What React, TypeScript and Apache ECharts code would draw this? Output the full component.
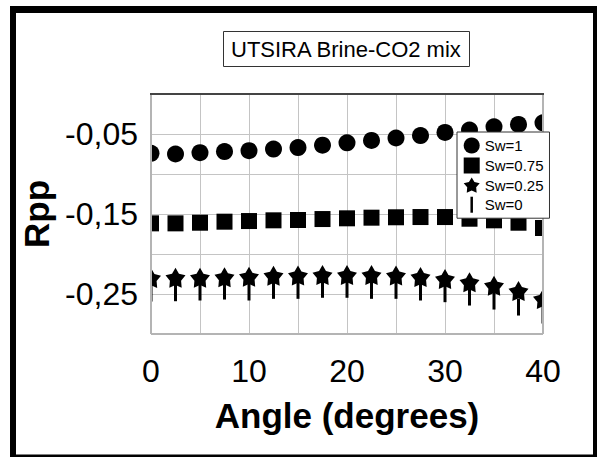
import React, { useEffect, useRef } from "react";
import * as echarts from "echarts";

const angles = [0, 2.5, 5, 7.5, 10, 12.5, 15, 17.5, 20, 22.5, 25, 27.5, 30, 32.5, 35, 37.5, 40];
const sw1 = [-0.0742, -0.075, -0.0733, -0.072, -0.0708, -0.0688, -0.067, -0.064, -0.061, -0.058, -0.055, -0.052, -0.048, -0.045, -0.041, -0.038, -0.036];
const sw075 = [-0.1617, -0.1617, -0.1609, -0.1596, -0.1588, -0.1579, -0.1575, -0.1563, -0.1554, -0.1546, -0.1541, -0.1538, -0.1538, -0.1559, -0.1579, -0.1609, -0.1675];
const sw025 = [-0.23, -0.2296, -0.2296, -0.229, -0.2284, -0.2271, -0.2269, -0.2263, -0.2263, -0.2263, -0.2269, -0.2288, -0.2313, -0.2354, -0.2396, -0.2463, -0.2563];
const sw0 = [-0.2488, -0.2484, -0.2475, -0.2463, -0.2475, -0.2454, -0.2454, -0.2441, -0.2441, -0.2454, -0.2454, -0.2475, -0.2496, -0.2538, -0.2588, -0.2663, -0.2763];
const seriesNames = ["Sw=1", "Sw=0.75", "Sw=0.25", "Sw=0"];
const yLabelsShown = [-0.05, -0.15, -0.25];
const xLabelsShown = [0, 10, 20, 30, 40];

const STAR =
  "path://M50 0 L66.46 27.35 L97.55 34.55 L76.63 58.65 L79.39 90.45 L50 78 L20.61 90.45 L23.37 58.65 L2.45 34.55 L33.54 27.35 Z";
const STICK = "path://M0 0 L2.5 0 L2.5 16 L0 16 Z";
const FONT = "Liberation Sans, Arial, sans-serif";

export default function App() {
  const ref = useRef<HTMLDivElement>(null);
  useEffect(() => {
    if (!ref.current) return;
    const chart = echarts.init(ref.current, undefined, { renderer: "svg" });
    const pts = (ys: number[]) => angles.map((a, i) => [a, ys[i]]);
    const gl = 151, gt = 94, gw = 392, gh = 240;
    const mark = { color: "#000", opacity: 1 };
    chart.setOption({
      animation: false,
      backgroundColor: "#fff",
      textStyle: { fontFamily: FONT },
      title: {
        text: "UTSIRA Brine-CO2 mix",
        left: 223,
        top: 31,
        padding: [6, 8, 6, 8],
        borderColor: "#333",
        borderWidth: 1,
        textStyle: { fontFamily: FONT, fontSize: 22, fontWeight: "normal", color: "#000", lineHeight: 24 },
      },
      grid: { left: gl, top: gt, width: gw, height: gh, show: false },
      xAxis: {
        type: "value",
        min: 0,
        max: 40,
        interval: 5,
        name: "Angle (degrees)",
        nameLocation: "middle",
        nameGap: 64,
        nameTextStyle: { fontFamily: FONT, fontSize: 35, fontWeight: "bold", color: "#000" },
        axisLine: { show: false },
        axisTick: { show: false },
        axisLabel: {
          fontFamily: FONT,
          fontSize: 32,
          color: "#000",
          margin: 21,
          formatter: (v: number) => (xLabelsShown.includes(Math.round(v)) && Math.abs(v - Math.round(v)) < 1e-6 ? String(Math.round(v)) : ""),
        },
        splitLine: { show: true, lineStyle: { color: "#c4c4c4", width: 1 } },
      },
      yAxis: {
        type: "value",
        min: -0.3,
        max: 0,
        interval: 0.05,
        name: "Rpp",
        nameLocation: "middle",
        nameRotate: 90,
        nameGap: 84,
        nameTextStyle: { fontFamily: FONT, fontSize: 35, fontWeight: "bold", color: "#000" },
        axisLine: { show: false },
        axisTick: { show: false },
        axisLabel: {
          fontFamily: FONT,
          fontSize: 32,
          color: "#000",
          margin: 13,
          padding: [15, 0, 0, 0],
          formatter: (v: number) => {
            const r = Math.round(v * 100) / 100;
            return yLabelsShown.some((s) => Math.abs(s - r) < 1e-6) ? r.toFixed(2).replace(".", ",") : "";
          },
        },
        splitLine: { show: true, lineStyle: { color: "#c4c4c4", width: 1 } },
      },
      legend: {
        orient: "vertical",
        left: 457,
        top: 132,
        width: 80,
        padding: [5.5, 6, 5.5, 6.7],
        itemWidth: 16,
        itemHeight: 16,
        itemGap: 4,
        symbolKeepAspect: true,
        backgroundColor: "#fff",
        borderColor: "#333",
        borderWidth: 1,
        z: 20,
        textStyle: { fontFamily: FONT, fontSize: 15, color: "#000" },
        data: [
          { name: seriesNames[0], icon: "circle" },
          { name: seriesNames[1], icon: "rect" },
          { name: seriesNames[2], icon: STAR },
          { name: seriesNames[3], icon: STICK },
        ],
      },
      graphic: [
        { type: "rect", z: 10, silent: true, shape: { x: 139, y: gt - 12, width: gl - 139, height: gh + 24 }, style: { fill: "#fff" } },
        { type: "rect", z: 10, silent: true, shape: { x: gl + gw, y: gt - 12, width: 12, height: gh + 24 }, style: { fill: "#fff" } },
        { type: "line", z: 11, silent: true, shape: { x1: gl, y1: gt, x2: gl, y2: gt + gh }, style: { stroke: "#b4b4b4", lineWidth: 2 } },
        { type: "line", z: 11, silent: true, shape: { x1: gl + gw, y1: gt, x2: gl + gw, y2: gt + gh }, style: { stroke: "#b4b4b4", lineWidth: 2 } },
        { type: "line", z: 11, silent: true, shape: { x1: gl, y1: gt + gh, x2: gl + gw, y2: gt + gh }, style: { stroke: "#b4b4b4", lineWidth: 2 } },
        { type: "line", z: 11, silent: true, shape: { x1: gl - 1, y1: gt, x2: gl + gw + 1, y2: gt }, style: { stroke: "#444", lineWidth: 2 } },
        { type: "rect", z: 12, silent: true, shape: { x: 10, y: 6, width: 6, height: 451 }, style: { fill: "#000" } },
        { type: "rect", z: 12, silent: true, shape: { x: 10, y: 6, width: 587, height: 7 }, style: { fill: "#000" } },
        { type: "rect", z: 12, silent: true, shape: { x: 593, y: 6, width: 4, height: 451 }, style: { fill: "#000" } },
        { type: "rect", z: 12, silent: true, shape: { x: 10, y: 454.5, width: 587, height: 2.5 }, style: { fill: "#000" } },
      ],
      series: [
        { name: seriesNames[0], type: "scatter", symbol: "circle", symbolSize: 17, itemStyle: mark, data: pts(sw1), z: 3 },
        { name: seriesNames[1], type: "scatter", symbol: "rect", symbolSize: 16, itemStyle: mark, data: pts(sw075), z: 3 },
        { name: seriesNames[3], type: "scatter", symbol: "rect", symbolSize: [3, 17], itemStyle: mark, data: pts(sw0), z: 3 },
        { name: seriesNames[2], type: "scatter", symbol: STAR, symbolSize: 20, itemStyle: mark, data: pts(sw025), z: 4 },
      ],
    });
    return () => chart.dispose();
  }, []);
  return <div ref={ref} style={{ position: "fixed", left: 0, top: 0, width: 597, height: 457 }} />;
}
